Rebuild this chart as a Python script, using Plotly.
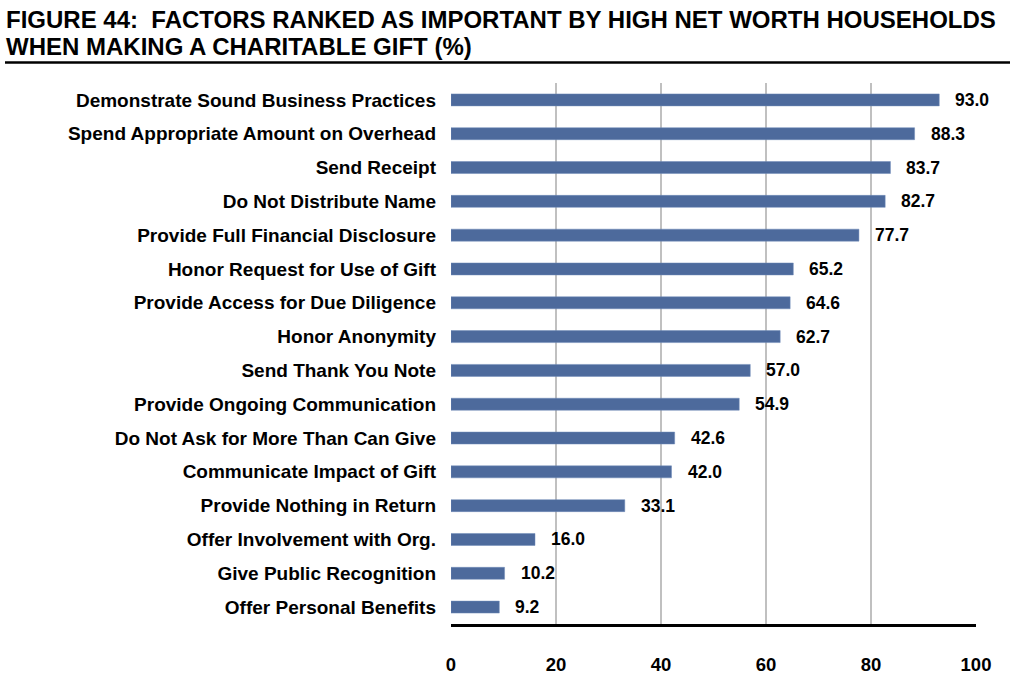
import plotly.graph_objects as go

categories = [
    "Demonstrate Sound Business Practices",
    "Spend Appropriate Amount on Overhead",
    "Send Receipt",
    "Do Not Distribute Name",
    "Provide Full Financial Disclosure",
    "Honor Request for Use of Gift",
    "Provide Access for Due Diligence",
    "Honor Anonymity",
    "Send Thank You Note",
    "Provide Ongoing Communication",
    "Do Not Ask for More Than Can Give",
    "Communicate Impact of Gift",
    "Provide Nothing in Return",
    "Offer Involvement with Org.",
    "Give Public Recognition",
    "Offer Personal Benefits",
]
values = [93.0, 88.3, 83.7, 82.7, 77.7, 65.2, 64.6, 62.7, 57.0, 54.9, 42.6, 42.0, 33.1, 16.0, 10.2, 9.2]
x_ticks = [0, 20, 40, 60, 80, 100]

title_line1 = "FIGURE 44:&nbsp; FACTORS RANKED AS IMPORTANT BY HIGH NET WORTH HOUSEHOLDS"
title_line2 = "WHEN MAKING A CHARITABLE GIFT (%)"

FONT = "Liberation Sans, Arial, sans-serif"
W, H = 1023, 687
L, R, T, B = 451, 47, 83, 61
pw = W - L - R
ph = H - T - B

def px_x(p):
    return (p - L) / pw

def px_y(p):
    return 1 + (T - p) / ph

fig = go.Figure()
fig.add_trace(go.Bar(
    x=values, y=categories, orientation="h",
    marker=dict(color="#4D6A9C", line=dict(color="#6F8BB8", width=0.5)),
    hoverinfo="x+y",
))

annotations = []
for c, v in zip(categories, values):
    annotations.append(dict(
        x=v, y=c, xref="x", yref="y", text=f"<b>{v:.1f}</b>",
        showarrow=False, xanchor="left", xshift=14,
        font=dict(family=FONT, size=17.5, color="black"),
    ))

annotations.append(dict(
    x=px_x(4), y=px_y(19.5), xref="paper", yref="paper", text=f"<b>{title_line1}</b>",
    showarrow=False, xanchor="left", yanchor="middle",
    font=dict(family=FONT, size=24, color="black"),
))
annotations.append(dict(
    x=px_x(4), y=px_y(46), xref="paper", yref="paper", text=f"<b>{title_line2}</b>",
    showarrow=False, xanchor="left", yanchor="middle",
    font=dict(family=FONT, size=24, color="black"),
))

fig.update_layout(
    width=W, height=H,
    margin=dict(l=L, r=R, t=T, b=B, pad=0),
    paper_bgcolor="white", plot_bgcolor="white",
    showlegend=False,
    bargap=0.646,
    annotations=annotations,
    shapes=[dict(type="line", xref="paper", yref="paper",
                 x0=px_x(5), x1=px_x(1010), y0=px_y(62.5), y1=px_y(62.5),
                 line=dict(color="black", width=2.5))],
    xaxis=dict(
        range=[0, 100], tickvals=x_ticks, ticktext=[f"<b>{t}</b>" for t in x_ticks],
        showgrid=True, gridcolor="#C0C0C0", gridwidth=2,
        zeroline=False, showline=True, linecolor="black", linewidth=3,
        ticks="", ticklabelstandoff=22,
        tickfont=dict(family=FONT, size=18.5, color="black"),
        fixedrange=True,
    ),
    yaxis=dict(
        autorange="reversed",
        tickvals=categories, ticktext=[f"<b>{c}</b>" for c in categories],
        showgrid=False, zeroline=False, showline=False, ticks="",
        ticklabelstandoff=14,
        tickfont=dict(family=FONT, size=19, color="black"),
        fixedrange=True,
    ),
)

fig.write_html("out.html", config={"displayModeBar": False},
               post_script="document.body.style.margin='0';")
